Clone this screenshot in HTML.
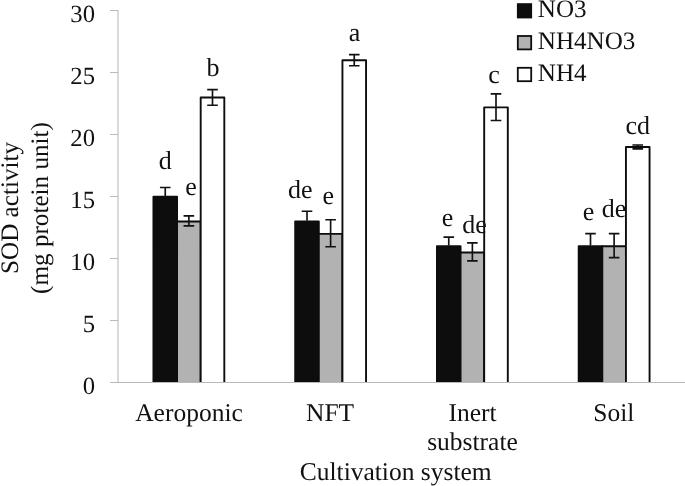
<!DOCTYPE html><html><head><meta charset="utf-8"><title>SOD activity</title>
<style>html,body{margin:0;padding:0;background:#fff;overflow:hidden}svg{display:block;text-rendering:geometricPrecision}text{font-family:"Liberation Serif","Times New Roman",serif;font-size:24.7px;fill:#111}.c{font-size:25.5px}.t{font-size:26px}.y{font-size:25.15px}.l{font-size:25.1px}</style></head><body>
<svg width="685" height="486" viewBox="0 0 685 486">
<rect width="685" height="486" fill="#fff"/>
<line x1="118" y1="10" x2="118" y2="383" stroke="#b4b4b4" stroke-width="1"/>
<g stroke="#bcbcbc" stroke-width="1" fill="none" shape-rendering="crispEdges">
<line x1="110" y1="320.5" x2="118" y2="320.5"/>
<line x1="110" y1="258.5" x2="118" y2="258.5"/>
<line x1="110" y1="196.5" x2="118" y2="196.5"/>
<line x1="110" y1="134.5" x2="118" y2="134.5"/>
<line x1="110" y1="72.5" x2="118" y2="72.5"/>
<line x1="110" y1="10.5" x2="118" y2="10.5"/>
</g>
<text x="95" y="394.0" text-anchor="end" font-size="25">0</text>
<text x="95" y="332.0" text-anchor="end" font-size="25">5</text>
<text x="95" y="270.0" text-anchor="end" font-size="25">10</text>
<text x="95" y="208.0" text-anchor="end" font-size="25">15</text>
<text x="95" y="146.0" text-anchor="end" font-size="25">20</text>
<text x="95" y="84.0" text-anchor="end" font-size="25">25</text>
<text x="95" y="22.0" text-anchor="end" font-size="25">30</text>
<clipPath id="cp"><rect x="0" y="0" width="685" height="382.6"/></clipPath><g clip-path="url(#cp)">
<rect x="153.44" y="196.65" width="23.62" height="186.50" fill="#0d0d0d" stroke="#0d0d0d" stroke-width="1.9" stroke-linejoin="round"/>
<rect x="177.06" y="221.45" width="23.62" height="161.70" fill="#b2b2b2" stroke="#0d0d0d" stroke-width="1.9" stroke-linejoin="round"/>
<rect x="200.69" y="97.45" width="23.62" height="285.70" fill="#ffffff" stroke="#0d0d0d" stroke-width="1.9" stroke-linejoin="round"/>
<path d="M165.25 187.50V196.00M159.95 187.50h10.6" stroke="#111" stroke-width="1.65" fill="none"/>
<path d="M188.88 215.80V225.80M183.57 215.80h10.6M183.57 225.80h10.6" stroke="#111" stroke-width="1.65" fill="none"/>
<path d="M212.50 89.60V105.20M207.20 89.60h10.6M207.20 105.20h10.6" stroke="#111" stroke-width="1.65" fill="none"/>
<rect x="295.19" y="221.45" width="23.62" height="161.70" fill="#0d0d0d" stroke="#0d0d0d" stroke-width="1.9" stroke-linejoin="round"/>
<rect x="318.81" y="233.85" width="23.62" height="149.30" fill="#b2b2b2" stroke="#0d0d0d" stroke-width="1.9" stroke-linejoin="round"/>
<rect x="342.44" y="60.25" width="23.62" height="322.90" fill="#ffffff" stroke="#0d0d0d" stroke-width="1.9" stroke-linejoin="round"/>
<path d="M307.00 211.20V220.80M301.70 211.20h10.6" stroke="#111" stroke-width="1.65" fill="none"/>
<path d="M330.62 219.70V246.70M325.32 219.70h10.6M325.32 246.70h10.6" stroke="#111" stroke-width="1.65" fill="none"/>
<path d="M354.25 54.60V65.70M348.95 54.60h10.6M348.95 65.70h10.6" stroke="#111" stroke-width="1.65" fill="none"/>
<rect x="436.94" y="246.25" width="23.62" height="136.90" fill="#0d0d0d" stroke="#0d0d0d" stroke-width="1.9" stroke-linejoin="round"/>
<rect x="460.56" y="252.45" width="23.62" height="130.70" fill="#b2b2b2" stroke="#0d0d0d" stroke-width="1.9" stroke-linejoin="round"/>
<rect x="484.19" y="107.37" width="23.62" height="275.78" fill="#ffffff" stroke="#0d0d0d" stroke-width="1.9" stroke-linejoin="round"/>
<path d="M448.75 237.10V245.60M443.45 237.10h10.6" stroke="#111" stroke-width="1.65" fill="none"/>
<path d="M472.38 242.80V260.80M467.07 242.80h10.6M467.07 260.80h10.6" stroke="#111" stroke-width="1.65" fill="none"/>
<path d="M496.00 93.92V120.52M490.70 93.92h10.6M490.70 120.52h10.6" stroke="#111" stroke-width="1.65" fill="none"/>
<rect x="578.69" y="246.25" width="23.62" height="136.90" fill="#0d0d0d" stroke="#0d0d0d" stroke-width="1.9" stroke-linejoin="round"/>
<rect x="602.31" y="246.25" width="23.62" height="136.90" fill="#b2b2b2" stroke="#0d0d0d" stroke-width="1.9" stroke-linejoin="round"/>
<rect x="625.94" y="147.05" width="23.62" height="236.10" fill="#ffffff" stroke="#0d0d0d" stroke-width="1.9" stroke-linejoin="round"/>
<path d="M590.50 233.60V245.60M585.20 233.60h10.6" stroke="#111" stroke-width="1.65" fill="none"/>
<path d="M614.12 233.60V257.60M608.83 233.60h10.6M608.83 257.60h10.6" stroke="#111" stroke-width="1.65" fill="none"/>
<path d="M637.75 145.00V148.80M632.45 145.00h10.6M632.45 148.80h10.6" stroke="#111" stroke-width="1.65" fill="none"/>
</g>
<line x1="110" y1="382.5" x2="685" y2="382.5" stroke="#bababa" stroke-width="1" shape-rendering="crispEdges"/>
<text x="165.3" y="168.5" text-anchor="middle" class="t">d</text>
<text x="191.0" y="195.4" text-anchor="middle" class="t">e</text>
<text x="212.9" y="76.3" text-anchor="middle" class="t">b</text>
<text x="300.2" y="198.3" text-anchor="middle" class="t">de</text>
<text x="328.2" y="203.5" text-anchor="middle" class="t">e</text>
<text x="354.5" y="40.9" text-anchor="middle" class="t">a</text>
<text x="447.4" y="226.4" text-anchor="middle" class="t">e</text>
<text x="474.5" y="232.5" text-anchor="middle" class="t">de</text>
<text x="494.0" y="83.0" text-anchor="middle" class="t">c</text>
<text x="588.4" y="219.6" text-anchor="middle" class="t">e</text>
<text x="614.0" y="216.6" text-anchor="middle" class="t">de</text>
<text x="637.8" y="134.2" text-anchor="middle" class="t">cd</text>
<text x="189" y="420.8" text-anchor="middle" class="c">Aeroponic</text>
<text x="330.1" y="420.8" text-anchor="middle" class="c">NFT</text>
<text x="472.6" y="420.8" text-anchor="middle" class="c">Inert</text>
<text x="472.5" y="450.4" text-anchor="middle" class="c">substrate</text>
<text x="613.8" y="420.8" text-anchor="middle" class="c">Soil</text>
<text x="395.7" y="480.1" text-anchor="middle" class="c">Cultivation system</text>
<text transform="translate(18,208) rotate(-90)" text-anchor="middle" class="y">SOD activity</text>
<text transform="translate(47.8,208) rotate(-90)" text-anchor="middle" class="y">(mg protein unit)</text>
<rect x="517.8" y="4.1" width="13.4" height="13.4" fill="#0d0d0d" stroke="#0d0d0d" stroke-width="1.8"/>
<text x="537.8" y="17.0" class="l">NO3</text>
<rect x="517.8" y="36.0" width="13.4" height="13.4" fill="#b2b2b2" stroke="#0d0d0d" stroke-width="1.8"/>
<text x="537.8" y="48.9" class="l">NH4NO3</text>
<rect x="517.8" y="67.8" width="13.4" height="13.4" fill="#ffffff" stroke="#0d0d0d" stroke-width="1.8"/>
<text x="537.8" y="80.8" class="l">NH4</text>
</svg></body></html>
